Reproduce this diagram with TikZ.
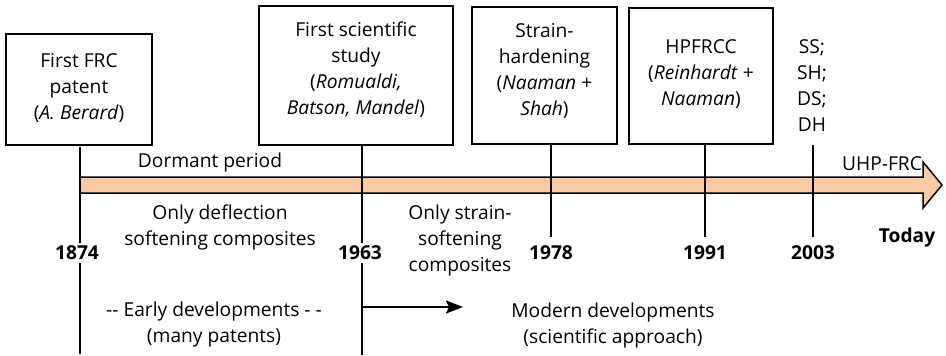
\documentclass[tikz,border=0pt]{standalone}
\usepackage{fontspec}
\setmainfont{Open Sans}
\usetikzlibrary{arrows.meta}
\definecolor{peach}{HTML}{FACBA3}
\tikzset{
  box/.style={draw=black, line width=1.2pt, fill=white, inner sep=0pt},
  txt/.style={align=center, inner sep=0pt, font=\fontsize{19.2}{26}\selectfont},
  yr/.style={inner sep=3pt, fill=white, font=\fontsize{19.2}{22}\selectfont\bfseries},
  tick/.style={line width=2.6pt},
  bar/.style={draw=black, line width=1.5pt, fill=peach, line join=miter},
}
\begin{document}
\begin{tikzpicture}[x=1pt,y=-1pt]
\useasboundingbox (0,0) rectangle (946,356);
% boxes
\node[box, minimum width=146pt, minimum height=111pt] (b1) at (79,89.5) {};
\node[box, minimum width=194pt, minimum height=139pt] (b2) at (356,75.5) {};
\node[box, minimum width=145pt, minimum height=137pt] (b3) at (544.5,75.5) {};
\node[box, minimum width=144pt, minimum height=136pt] (b4) at (701,76) {};
\node[txt] (t1) at (79,88) {First FRC\\patent\\(\textit{A. Berard})};
\node[txt] (t2) at (356,70) {First scientific\\study\\(\textit{Romualdi,}\\\textit{Batson, Mandel})};
\node[txt] (t3) at (544.5,71) {Strain-\\hardening\\(\textit{Naaman} +\\\textit{Shah})};
\node[txt] (t4) at (701,74) {HPFRCC\\(\textit{Reinhardt} +\\\textit{Naaman})};
\node[txt] (t5) at (812,86) {SS;\\SH;\\DS;\\DH};
% tick endpoints
\coordinate (top1874) at (80,147);
\coordinate (bot1874) at (80,354);
\coordinate (bot1963) at (362,355);
\coordinate (bot1978) at (551,237);
\coordinate (bot1991) at (705,237);
\coordinate (top2003) at (813,145);
\coordinate (bot2003) at (813,237);
% bar arrow
\draw[bar] (80,177) -- (923,177) -- (923,162) -- (942,185) -- (923,208) -- (923,193) -- (80,193) -- cycle;
% ticks
\draw[tick] (top1874) -- (bot1874);
\draw[tick] (b2.south -| bot1963) -- (bot1963);
\draw[tick] (b3.south -| bot1978) -- (bot1978);
\draw[tick] (b4.south -| bot1991) -- (bot1991);
\draw[tick] (top2003) -- (bot2003);
% year labels
\node[yr] (y1874) at (77,253) {1874};
\node[yr] (y1963) at (360,253) {1963};
\node[yr, fill=none] (y1978) at (551,253) {1978};
\node[yr, fill=none] (y1991) at (705,253) {1991};
\node[yr, fill=none] (y2003) at (813,253) {2003};
\node[yr, fill=none] (ytoday) at (907,238) {Today};
% texts
\node[txt] (dormant) at (210,163) {Dormant period};
\node[txt] (uhp) at (882,164) {UHP-FRC};
\node[txt] (defl) at (220,227) {Only deflection\\softening composites};
\node[txt] (strain) at (460,241) {Only strain-\\softening\\composites};
\node[txt] (early) at (214,325) {{-}{-} Early developments - -\\(many patents)};
\node[txt] (modern) at (613,326) {Modern developments\\(scientific approach)};
% arrow
\coordinate (arrstart) at (362,307);
\coordinate (arrend) at (463,307);
\draw[line width=2pt, -{Stealth[length=17pt,width=13pt,inset=3pt]}] (arrstart) -- (arrend);
\end{tikzpicture}
\end{document}
